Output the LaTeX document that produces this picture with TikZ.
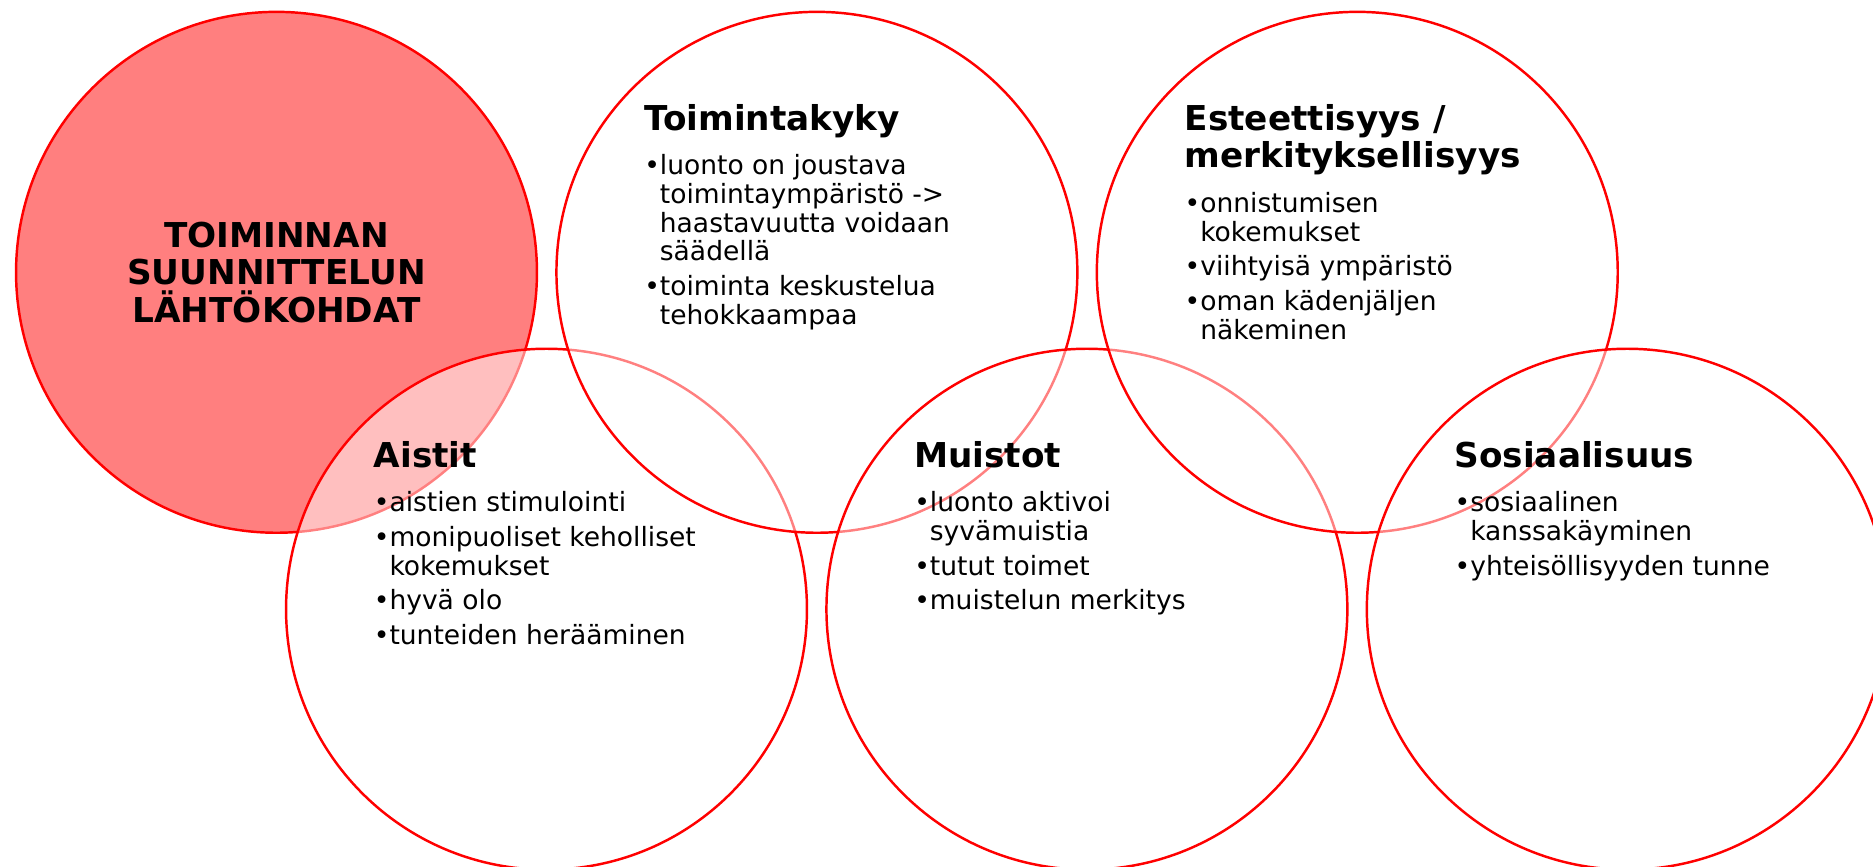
\documentclass[tikz,border=0pt]{standalone}
\usepackage{fontspec}
\setmainfont{DejaVu Sans}
\usepackage{tikz}
\usetikzlibrary{positioning}
\tikzstyle{ympyra} = [circle, minimum size=10.42cm, inner sep=0pt, draw=red, line width=1.4pt, fill=white, fill opacity=0.5]
\tikzstyle{teksti} = [anchor=base west, inner sep=0pt]
\tikzstyle{paaotsikko} = [align=center, inner sep=0pt, font=\bfseries\fontsize{19.5}{21.4}\selectfont]
% heading + bullet list, first baseline = heading baseline
\newcommand{\kortti}[2]{\parbox[t]{8cm}{\raggedright\fontsize{19.5}{21.4}\selectfont\bfseries #1\par
  \fontsize{15.1}{16.33}\selectfont\mdseries\vspace{5.7pt}#2}}
\newcommand{\kohta}{\par\vspace{3.36pt}\hangindent=0.59em\hangafter=1\noindent •}

\begin{document}
\begin{tikzpicture}[x=0.02cm, y=-0.02cm, node distance=10.81cm]
\clip (0,0) rectangle (1873,866);
% circles, back to front
\node (keskus) [ympyra, fill=red] at (276.5,272.3) {};
\node (aistit) [ympyra] at (546.5,609.2) {};
\node (toim) [ympyra, right of=keskus] {};
\node (muistot) [ympyra, right of=aistit] {};
\node (est) [ympyra, right of=toim] {};
\node (sos) [ympyra, right of=muistot] {};
% texts
\node (otsikko) [paaotsikko] at (keskus) {TOIMINNAN\\SUUNNITTELUN\\LÄHTÖKOHDAT};
\node (toimteksti) [teksti] at ([shift={(-173,-142)}]toim.center) {\kortti{Toimintakyky}{%
  \kohta luonto on joustava\newline toimintaympäristö ->\newline haastavuutta voidaan\newline säädellä
  \kohta toiminta keskustelua\newline tehokkaampaa}};
\node (estteksti) [teksti] at ([shift={(-173,-142)}]est.center) {\kortti{Esteettisyys /\\merkityksellisyys}{%
  \kohta onnistumisen\newline kokemukset
  \kohta viihtyisä ympäristö
  \kohta oman kädenjäljen\newline näkeminen}};
\node (aistitteksti) [teksti] at ([shift={(-173,-142)}]aistit.center) {\kortti{Aistit}{%
  \kohta aistien stimulointi
  \kohta monipuoliset keholliset\newline kokemukset
  \kohta hyvä olo
  \kohta tunteiden herääminen}};
\node (muistotteksti) [teksti] at ([shift={(-173,-142)}]muistot.center) {\kortti{Muistot}{%
  \kohta luonto aktivoi\newline syvämuistia
  \kohta tutut toimet
  \kohta muistelun merkitys}};
\node (sosteksti) [teksti] at ([shift={(-173,-142)}]sos.center) {\kortti{Sosiaalisuus}{%
  \kohta sosiaalinen\newline kanssakäyminen
  \kohta yhteisöllisyyden tunne}};
\end{tikzpicture}
\end{document}
